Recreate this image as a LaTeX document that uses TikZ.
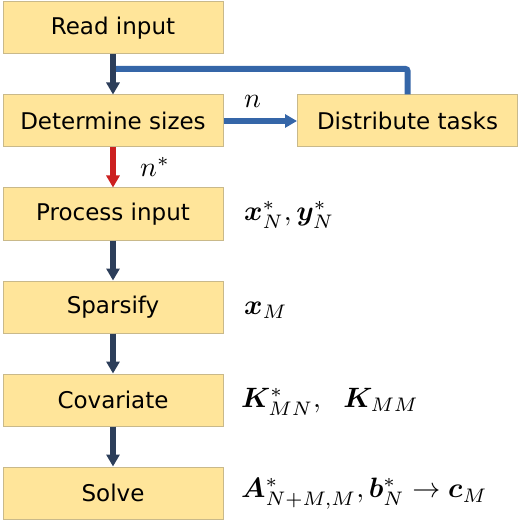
\RequirePackage{fix-cm}
\documentclass[tikz,border=0pt]{standalone}
\usepackage{amsmath,bm}
\usepackage{fontspec}
\setmainfont{DejaVu Sans}
\usetikzlibrary{arrows.meta}
\definecolor{boxfill}{HTML}{FFE59A}
\definecolor{boxline}{HTML}{C9B98A}
\definecolor{darkarr}{HTML}{2C3E5A}
\definecolor{bluearr}{HTML}{3566A8}
\definecolor{redarr}{HTML}{CC2020}
\newcommand{\mlbl}[1]{\scalebox{2.8}{$#1$}}
\tikzset{
  stepbox/.style={draw=boxline, line width=1pt, fill=boxfill, minimum width=220pt, minimum height=52pt, inner sep=0pt, font=\fontsize{23}{26}\selectfont},
  flowarr/.style={line width=6pt, -{Triangle[width=13pt,length=12pt]}, shorten >=0pt},
  mathlbl/.style={anchor=west, inner sep=0pt, font=\normalsize}
}
\begin{document}
\begin{tikzpicture}[x=1pt,y=-1pt]
\useasboundingbox (0,0) rectangle (520,521);
\node[stepbox] (read) at (113,28) {Read input};
\node[stepbox] (det) at (113,121) {Determine sizes};
\node[stepbox] (dist) at (407.5,121) {Distribute tasks};
\node[stepbox] (proc) at (113,214) {Process input};
\node[stepbox] (spar) at (113,307) {Sparsify};
\node[stepbox] (cov) at (113,400) {Covariate};
\node[stepbox] (solve) at (113,493) {Solve};
\coordinate (j) at (116,69);
\draw[bluearr, line width=6pt, rounded corners=2pt] (dist.north) |- (j);
\draw[flowarr, darkarr] (read.south) -- (det.north);
\draw[flowarr, redarr] (det.south) -- (proc.north);
\draw[flowarr, darkarr] (proc.south) -- (spar.north);
\draw[flowarr, darkarr] (spar.south) -- (cov.north);
\draw[flowarr, darkarr] (cov.south) -- (solve.north);
\draw[flowarr, bluearr] (det.east) -- (dist.west);
\node[mathlbl, anchor=base west] (nlbl) at (244,108) {\mlbl{n}};
\node[mathlbl, anchor=base west] (nstar) at (140,177) {\mlbl{n^*}};
\node[mathlbl] (l1) at (244,215) {\mlbl{\bm{x}^*_N, \bm{y}^*_N}};
\node[mathlbl] (l2) at (244,310) {\mlbl{\bm{x}_M}};
\node[mathlbl] (l3) at (241,402) {\mlbl{\bm{K}^*_{MN},\ \ \bm{K}_{MM}}};
\node[mathlbl] (l4) at (241,494) {\mlbl{\bm{A}^*_{N+M,M}, \bm{b}^*_N \rightarrow \bm{c}_M}};
\end{tikzpicture}
\end{document}
